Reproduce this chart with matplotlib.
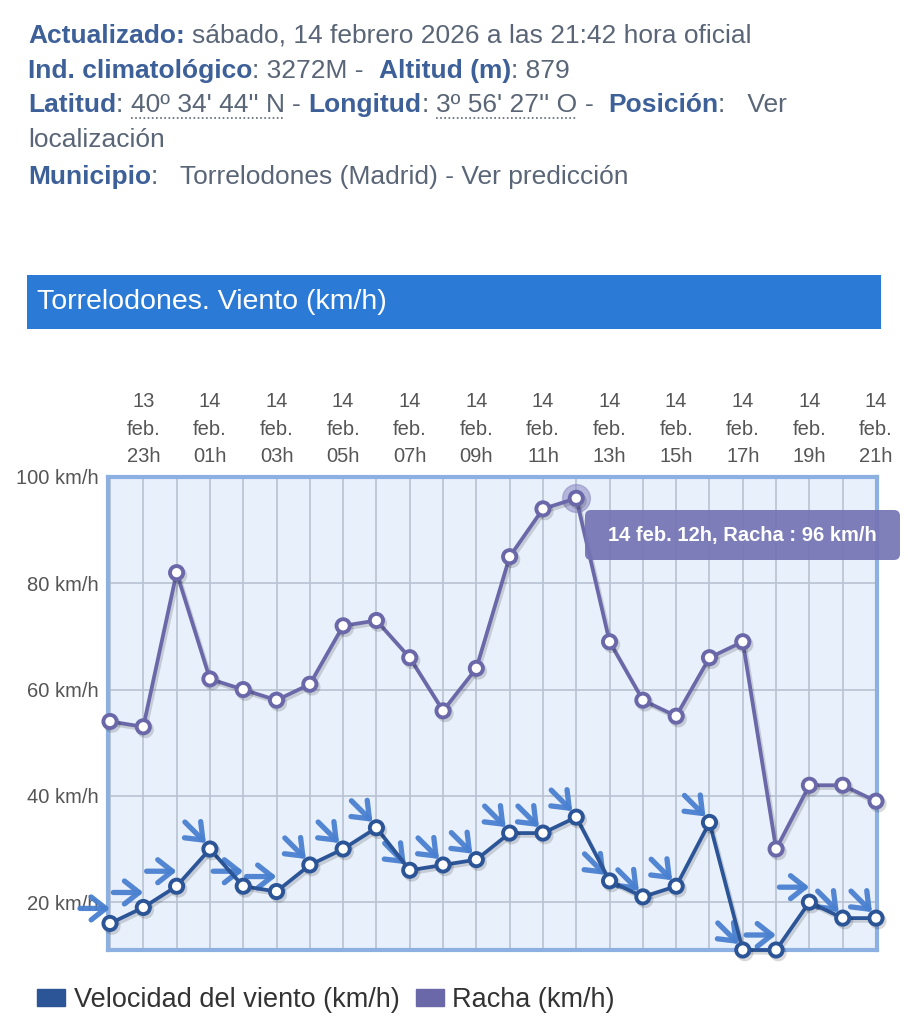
import matplotlib
matplotlib.use("Agg")
import matplotlib.pyplot as plt
from matplotlib.patches import Rectangle, FancyBboxPatch, Patch
from matplotlib.lines import Line2D
from matplotlib.transforms import offset_copy, IdentityTransform
import matplotlib.patheffects as pe

plt.rcParams['font.family'] = ['Liberation Sans Narrow', 'Liberation Sans', 'DejaVu Sans']

# Data: 13 feb 22h -> 14 feb 21h
horas = ['22h', '23h', '00h', '01h', '02h', '03h', '04h', '05h', '06h', '07h', '08h', '09h',
         '10h', '11h', '12h', '13h', '14h', '15h', '16h', '17h', '18h', '19h', '20h', '21h']
dias = ['13'] * 2 + ['14'] * 22
racha = [54, 53, 82, 62, 60, 58, 61, 72, 73, 66, 56, 64,
         85, 94, 96, 69, 58, 55, 66, 69, 30, 42, 42, 39]
velocidad = [16, 19, 23, 30, 23, 22, 27, 30, 34, 26, 27, 28,
             33, 33, 36, 24, 21, 23, 35, 11, 11, 20, 17, 17]
direccion = ['O', 'O', 'O', 'NO', 'O', 'O', 'NO', 'NO', 'NO', 'NO', 'NO', 'NO',
             'NO', 'NO', 'NO', 'NO', 'NO', 'NO', 'NO', 'NO', 'O', 'O', 'NO', 'NO']

W, H = 908, 1024
C_VEL = '#2b5597'
C_RACHA = '#6a68a8'
C_ARROW = '#4a80d0'
C_LABEL = '#3d6099'
C_TEXT = '#5a6677'

fig = plt.figure(figsize=(W / 100, H / 100), dpi=100)
renderer = fig.canvas.get_renderer()

# ---- header text ----
def text_width(s, weight):
    t = fig.text(0, 0, s, fontsize=19, fontweight=weight)
    w = t.get_window_extent(renderer).width
    t.remove()
    return w

space_w = {w: text_width('x x', w) - text_width('xx', w) for w in ('normal', 'bold')}

def draw_line(y, segs):
    x = 28
    for txt, bold, underline in segs:
        weight = 'bold' if bold else 'normal'
        lead = len(txt) - len(txt.lstrip(' '))
        trail = len(txt) - len(txt.rstrip(' '))
        core = txt.strip(' ')
        x += lead * space_w[weight]
        t = fig.text(x / W, 1 - y / H, core, fontsize=19, fontweight=weight,
                     color=C_LABEL if bold else C_TEXT, va='center', ha='left')
        bb = t.get_window_extent(renderer)
        if underline:
            fig.add_artist(Line2D([bb.x0, bb.x1], [H - y - 13, H - y - 13],
                                  transform=IdentityTransform(), color=C_TEXT,
                                  lw=1.2, ls=(0, (1, 1.5))))
        x = bb.x1 + trail * space_w[weight]

draw_line(36, [("Actualizado:", True, False),
               (" sábado, 14 febrero 2026 a las 21:42 hora oficial", False, False)])
draw_line(71, [("Ind. climatológico", True, False), (": 3272M -  ", False, False),
               ("Altitud (m)", True, False), (": 879", False, False)])
draw_line(105, [("Latitud", True, False), (": ", False, False),
                ("40º 34' 44'' N", False, True), (" - ", False, False),
                ("Longitud", True, False), (": ", False, False),
                ("3º 56' 27'' O", False, True), (" -  ", False, False),
                ("Posición", True, False), (":   Ver", False, False)])
draw_line(140, [("localización", False, False)])
draw_line(177, [("Municipio", True, False),
                (":   Torrelodones (Madrid) - Ver predicción", False, False)])

# ---- blue banner ----
fig.add_artist(Rectangle((27 / W, 1 - 329 / H), (881 - 27) / W, 54 / H,
                         transform=fig.transFigure, color='#2b7bd6', lw=0))
fig.text(37 / W, 1 - 302 / H, 'Torrelodones. Viento (km/h)', fontsize=20.5,
         color='white', va='center', ha='left')

# ---- chart ----
ax = fig.add_axes([108 / W, 1 - 950 / H, (877 - 108) / W, (950 - 477) / H])
ax.set_facecolor('#e8f0fb')
x = list(range(len(horas)))

ax.set_xlim(-0.06, 23.03)
ax.set_ylim(11, 100)

ax.set_yticks([20, 40, 60, 80, 100])
ax.set_yticklabels(['20 km/h', '40 km/h', '60 km/h', '80 km/h', '100 km/h'])
ax.tick_params(axis='y', length=0, pad=7, labelsize=14.5, labelcolor='#555555')

ax.xaxis.tick_top()
ax.set_xticks(x)
ax.set_xticklabels([f"{d}\nfeb.\n{h}" if i % 2 == 1 else '' for i, (d, h) in
                    enumerate(zip(dias, horas))])
ax.tick_params(axis='x', length=0, pad=8, labelsize=14.5, labelcolor='#555555')
for lbl in ax.get_xticklabels():
    lbl.set_linespacing(1.55)

ax.grid(True, color='#b7c2d2', lw=1.2)
ax.set_axisbelow(True)
for s in ax.spines.values():
    s.set_color('#8db0e3')
    s.set_linewidth(3)

shadow = [pe.SimpleLineShadow(offset=(1.5, -2), alpha=0.15), pe.Normal()]

# halo on highlighted point
ax.plot(14, racha[14], 'o', ms=20, color='#8a89c2', alpha=0.55, zorder=3, clip_on=False)

ax.plot(x, racha, color=C_RACHA, lw=2.7, marker='o', ms=9.5, mfc='white', mec=C_RACHA,
        mew=2.8, zorder=4, clip_on=False, path_effects=shadow)
ax.plot(x, velocidad, color=C_VEL, lw=2.7, marker='o', ms=9.5, mfc='white', mec=C_VEL,
        mew=2.8, zorder=5, clip_on=False, path_effects=shadow)

# wind direction arrows (pixel offsets from each point)
arrow_geom = {'O': ((0, 15), (-30, 15)), 'NO': ((-4, 6), (-25, 27))}
for i, (v, d) in enumerate(zip(velocidad, direccion)):
    tip, tail = arrow_geom[d]
    tr = offset_copy(ax.transData, fig=fig, x=tip[0], y=tip[1], units='dots')
    ax.annotate('', xy=(i, v), xycoords=tr,
                xytext=(tail[0] - tip[0], tail[1] - tip[1]), textcoords='offset pixels',
                arrowprops=dict(arrowstyle='->, head_length=0.7, head_width=0.55',
                                color=C_ARROW, lw=3.8, shrinkA=0, shrinkB=0,
                                mutation_scale=15, alpha=0.95),
                zorder=3, annotation_clip=False)

# tooltip
fig.add_artist(FancyBboxPatch((585, H - 560), 315, 50, boxstyle='round,pad=0,rounding_size=6',
                              transform=IdentityTransform(), fc='#7474b4', ec='none', alpha=0.92))
fig.text(742 / W, 1 - 535 / H, '14 feb. 12h, Racha : 96 km/h', fontsize=14.5,
         fontweight='bold', color='white', ha='center', va='center')

# legend
handles = [Patch(color=C_VEL), Patch(color=C_RACHA)]
fig.legend(handles, ['Velocidad del viento (km/h)', 'Racha (km/h)'], loc='center left',
           bbox_to_anchor=(37 / W, 1 - 1000 / H), ncol=2, frameon=False, fontsize=19.5,
           handlelength=1.05, handleheight=0.6, handletextpad=0.3, columnspacing=0.6,
           labelcolor='#333333', borderpad=0, borderaxespad=0)

fig.savefig('out.png', dpi=100)
